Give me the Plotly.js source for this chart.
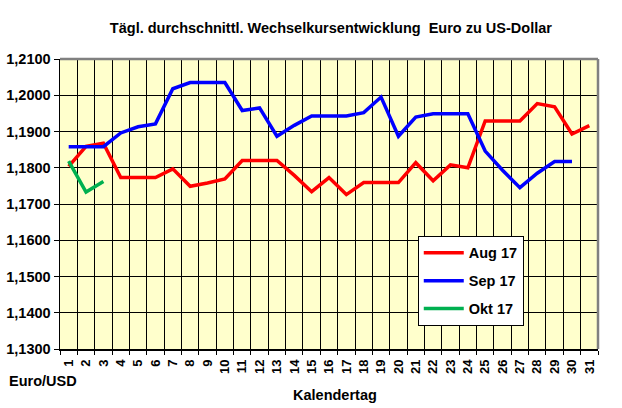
<!DOCTYPE html>
<html>
<head>
<meta charset="utf-8">
<script src="https://cdn.plot.ly/plotly-3.0.1.min.js"></script>
<style>html,body{margin:0;padding:0;background:#fff;}#chart{width:622px;height:408px;}</style>
</head>
<body>
<div id="chart"></div>
<script>
const days = Array.from({length: 31}, (_, i) => i + 1);
const dayLabels = days.map(String);
const aug17 = [1.1804,1.1859,1.1868,1.1773,1.1773,1.1773,1.1797,1.1749,1.1758,1.1769,1.1820,1.1820,1.1820,1.1779,1.1734,1.1773,1.1726,1.1759,1.1759,1.1759,1.1814,1.1764,1.1808,1.1800,1.1929,1.1929,1.1929,1.1977,1.1968,1.1893,1.1916];
const sep17 = [1.1858,1.1858,1.1858,1.1896,1.1913,1.1921,1.2018,1.2035,1.2035,1.2035,1.1958,1.1965,1.1887,1.1917,1.1943,1.1943,1.1943,1.1952,1.1995,1.1887,1.1940,1.1949,1.1949,1.1949,1.1846,1.1793,1.1745,1.1785,1.1817,1.1817];
const okt17 = [1.1818,1.1733,1.1762];
const seriesNames = ["Aug 17", "Sep 17", "Okt 17"];
const yTicks = [1.13,1.14,1.15,1.16,1.17,1.18,1.19,1.20,1.21];

const F = "Liberation Sans, Arial, sans-serif";
const mk = (arr, name, color, g) => ({
  x: days.slice(0, arr.length), y: arr, name: name, type: "scatter", mode: "lines",
  legendgroup: g,
  line: {color: color, width: 3.5}, xaxis: "x", yaxis: "y"
});
const traces = [
  mk(aug17, seriesNames[0], "#FF0000", "a"),
  mk(sep17, seriesNames[1], "#0000FF", "b"),
  mk(okt17, seriesNames[2], "#00B050", "c"),
  {x: days, y: days.map(() => null), xaxis: "x2", yaxis: "y", showlegend: false, hoverinfo: "skip", type: "scatter", mode: "lines"}
];
const layout = {
  width: 622, height: 408,
  paper_bgcolor: "#FFFFFF", plot_bgcolor: "#FFFFCC",
  separators: ",.",
  margin: {l: 60, r: 24, t: 59, b: 59},
  font: {family: F, size: 13, color: "#000"},
  title: {text: "<b>Tägl. durchschnittl. Wechselkursentwicklung  Euro zu US-Dollar</b>", x: 0.532, xanchor: "center", y: 0.932, yanchor: "middle", font: {family: F, size: 14.5, color: "#000"}},
  xaxis: {
    range: [0.5, 31.5], tickmode: "linear", tick0: 0.5, dtick: 1,
    showticklabels: false, ticks: "outside", ticklen: 4, tickcolor: "#000", tickwidth: 1,
    showgrid: true, gridcolor: "#000", gridwidth: 1, zeroline: false,
    showline: true, linecolor: "#000", linewidth: 1.5, mirror: false, fixedrange: true
  },
  xaxis2: {
    overlaying: "x", anchor: "y", side: "bottom", range: [0.5, 31.5],
    tickmode: "array", tickvals: days, ticktext: dayLabels, tickangle: -90,
    ticks: "", showgrid: false, zeroline: false, showline: false,
    tickfont: {family: F, size: 13, color: "#000", weight: "bold"}, ticklabelstandoff: 7
  },
  yaxis: {
    range: [1.13, 1.21], tickmode: "array", tickvals: yTicks, tickformat: ".4f",
    ticks: "outside", ticklen: 5, tickcolor: "#000",
    showgrid: true, gridcolor: "#000", gridwidth: 1, zeroline: false,
    showline: true, linecolor: "#000", linewidth: 1.5,
    tickfont: {family: F, size: 14.5, color: "#000", weight: "bold"}, fixedrange: true
  },
  showlegend: true,
  legend: {
    x: 0.665, y: 0.39, xanchor: "left", yanchor: "top",
    bgcolor: "#FFFFFF", bordercolor: "#000", borderwidth: 1,
    font: {family: F, size: 14.5, color: "#000", weight: "bold"},
    tracegroupgap: 6, itemwidth: 40
  },
  shapes: [
    {type: "line", xref: "paper", yref: "paper", x0: 0, x1: 1, y0: 1, y1: 1, line: {color: "#808080", width: 2.5}},
    {type: "line", xref: "paper", yref: "paper", x0: 1, x1: 1, y0: 0, y1: 1, line: {color: "#808080", width: 2.5}}
  ],
  annotations: [
    {text: "<b>Euro/USD</b>", xref: "paper", yref: "paper", x: -0.0985, y: -0.111, xanchor: "left", yanchor: "middle", showarrow: false, font: {family: F, size: 14.5, color: "#000"}},
    {text: "<b>Kalendertag</b>", xref: "paper", yref: "paper", x: 0.511, y: -0.159, xanchor: "center", yanchor: "middle", showarrow: false, font: {family: F, size: 14.5, color: "#000"}}
  ]
};
Plotly.newPlot("chart", traces, layout, {displayModeBar: false, staticPlot: true});
</script>
</body>
</html>
